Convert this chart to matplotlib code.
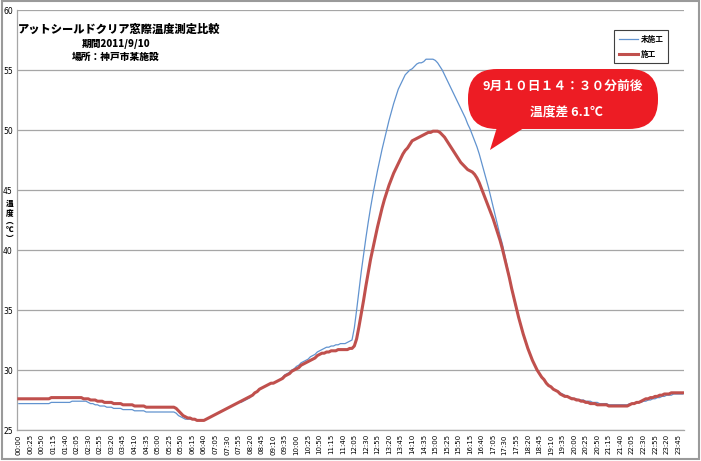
import matplotlib
matplotlib.use("Agg")
import matplotlib.pyplot as plt
from matplotlib.patches import FancyBboxPatch, Polygon, Rectangle

plt.rcParams['font.family'] = ['Noto Sans CJK JP', 'DejaVu Sans']

# 5分ごとの時刻 00:00 - 23:55
times = ["%02d:%02d" % (m // 60, m % 60) for m in range(0, 24 * 60, 5)]

# 未施工 (1時間ごと12点)
untreated = [
    27.2, 27.2, 27.2, 27.2, 27.2, 27.2, 27.2, 27.2, 27.2, 27.2, 27.2, 27.2,
    27.2, 27.2, 27.3, 27.3, 27.3, 27.3, 27.3, 27.3, 27.3, 27.3, 27.3, 27.4,
    27.4, 27.4, 27.4, 27.4, 27.4, 27.4, 27.3, 27.2, 27.2, 27.1, 27.1, 27.0,
    27.0, 27.0, 26.9, 26.9, 26.9, 26.8, 26.8, 26.8, 26.8, 26.7, 26.7, 26.7,
    26.7, 26.7, 26.6, 26.6, 26.6, 26.6, 26.6, 26.5, 26.5, 26.5, 26.5, 26.5,
    26.5, 26.5, 26.5, 26.5, 26.5, 26.5, 26.5, 26.5, 26.4, 26.2, 26.1, 26.0,
    25.9, 25.9, 25.9, 25.9, 25.9, 25.8, 25.8, 25.8, 25.8, 25.9, 26.0, 26.1,
    26.2, 26.3, 26.4, 26.5, 26.6, 26.7, 26.8, 26.9, 27.0, 27.1, 27.2, 27.3,
    27.3, 27.4, 27.5, 27.6, 27.7, 27.9, 28.1, 28.2, 28.4, 28.5, 28.6, 28.7,
    28.8, 28.9, 28.9, 29.0, 29.1, 29.2, 29.4, 29.6, 29.7, 29.8, 30.0, 30.1,
    30.3, 30.4, 30.6, 30.7, 30.8, 30.9, 31.1, 31.2, 31.3, 31.5, 31.6, 31.7,
    31.8, 31.9, 31.9, 32.0, 32.0, 32.1, 32.1, 32.2, 32.2, 32.2, 32.3, 32.4,
    32.5, 33.5, 35.0, 36.6, 38.2, 39.6, 41.0, 42.3, 43.5, 44.6, 45.6, 46.6,
    47.5, 48.4, 49.2, 50.0, 50.8, 51.5, 52.2, 52.8, 53.4, 53.8, 54.2, 54.6,
    54.8, 55.0, 55.1, 55.3, 55.5, 55.6, 55.6, 55.7, 55.9, 55.9, 55.9, 55.9,
    55.8, 55.6, 55.3, 55.0, 54.6, 54.2, 53.8, 53.4, 53.0, 52.6, 52.2, 51.8,
    51.4, 51.0, 50.5, 50.1, 49.6, 49.1, 48.6, 48.0, 47.3, 46.6, 45.9, 45.2,
    44.4, 43.6, 42.8, 42.0, 41.2, 40.5, 39.6, 38.7, 37.8, 36.8, 35.9, 35.1,
    34.4, 33.7, 33.0, 32.4, 31.8, 31.3, 30.8, 30.4, 30.0, 29.7, 29.4, 29.2,
    28.9, 28.7, 28.6, 28.4, 28.3, 28.2, 28.1, 28.0, 27.9, 27.8, 27.7, 27.7,
    27.6, 27.6, 27.5, 27.5, 27.5, 27.4, 27.4, 27.4, 27.3, 27.3, 27.3, 27.2,
    27.2, 27.2, 27.2, 27.1, 27.1, 27.1, 27.1, 27.1, 27.1, 27.1, 27.1, 27.1,
    27.2, 27.2, 27.2, 27.3, 27.3, 27.3, 27.4, 27.4, 27.5, 27.5, 27.6, 27.6,
    27.7, 27.7, 27.8, 27.8, 27.9, 27.9, 27.9, 28.0, 28.0, 28.0, 28.0, 28.0,
]

# 施工
treated = [
    27.6, 27.6, 27.6, 27.6, 27.6, 27.6, 27.6, 27.6, 27.6, 27.6, 27.6, 27.6,
    27.6, 27.6, 27.7, 27.7, 27.7, 27.7, 27.7, 27.7, 27.7, 27.7, 27.7, 27.7,
    27.7, 27.7, 27.7, 27.7, 27.6, 27.6, 27.6, 27.5, 27.5, 27.5, 27.4, 27.4,
    27.4, 27.3, 27.3, 27.3, 27.3, 27.2, 27.2, 27.2, 27.2, 27.1, 27.1, 27.1,
    27.1, 27.1, 27.0, 27.0, 27.0, 27.0, 27.0, 26.9, 26.9, 26.9, 26.9, 26.9,
    26.9, 26.9, 26.9, 26.9, 26.9, 26.9, 26.9, 26.9, 26.8, 26.6, 26.4, 26.2,
    26.1, 26.0, 26.0, 25.9, 25.9, 25.8, 25.8, 25.8, 25.8, 25.9, 26.0, 26.1,
    26.2, 26.3, 26.4, 26.5, 26.6, 26.7, 26.8, 26.9, 27.0, 27.1, 27.2, 27.3,
    27.4, 27.5, 27.6, 27.7, 27.8, 27.9, 28.1, 28.2, 28.4, 28.5, 28.6, 28.7,
    28.8, 28.9, 28.9, 29.0, 29.1, 29.2, 29.3, 29.5, 29.6, 29.7, 29.9, 30.0,
    30.1, 30.2, 30.4, 30.5, 30.6, 30.7, 30.8, 30.9, 31.0, 31.2, 31.3, 31.4,
    31.4, 31.5, 31.5, 31.6, 31.6, 31.6, 31.7, 31.7, 31.7, 31.7, 31.7, 31.8,
    31.8, 32.0, 32.6, 33.6, 34.7, 35.8, 37.0, 38.1, 39.2, 40.1, 41.0, 41.9,
    42.7, 43.5, 44.2, 44.8, 45.4, 45.9, 46.4, 46.8, 47.2, 47.6, 48.0, 48.3,
    48.5, 48.8, 49.1, 49.2, 49.3, 49.4, 49.5, 49.6, 49.7, 49.8, 49.8, 49.9,
    49.9, 49.9, 49.8, 49.6, 49.4, 49.1, 48.8, 48.5, 48.2, 47.9, 47.6, 47.3,
    47.1, 46.9, 46.7, 46.6, 46.5, 46.3, 46.0, 45.6, 45.1, 44.6, 44.1, 43.6,
    43.1, 42.6, 42.0, 41.4, 40.8, 40.1, 39.3, 38.5, 37.7, 36.8, 36.0, 35.2,
    34.4, 33.7, 33.0, 32.4, 31.8, 31.3, 30.8, 30.4, 30.0, 29.7, 29.4, 29.2,
    28.9, 28.7, 28.6, 28.4, 28.3, 28.2, 28.0, 27.9, 27.8, 27.8, 27.7, 27.6,
    27.6, 27.5, 27.5, 27.4, 27.4, 27.3, 27.3, 27.2, 27.2, 27.2, 27.1, 27.1,
    27.1, 27.1, 27.1, 27.0, 27.0, 27.0, 27.0, 27.0, 27.0, 27.0, 27.0, 27.0,
    27.1, 27.2, 27.2, 27.3, 27.3, 27.4, 27.5, 27.6, 27.6, 27.7, 27.7, 27.8,
    27.8, 27.9, 27.9, 28.0, 28.0, 28.0, 28.1, 28.1, 28.1, 28.1, 28.1, 28.1,
]

yticks = [25, 30, 35, 40, 45, 50, 55, 60]

W, H = 701, 461
fig = plt.figure(figsize=(W / 100, H / 100), dpi=100)
ax = fig.add_axes([17 / W, (H - 430) / H, (684 - 17) / W, 420 / H])

x = list(range(len(times)))
ax.plot(x, untreated, color='#6193cf', lw=0.9, label='未施工', zorder=3)
ax.plot(x, treated, color='#c0504d', lw=2.2, label='施工', zorder=4)

ax.set_xlim(-0.8, 287.5)
ax.set_ylim(25, 60)
ax.set_yticks(yticks)
ax.set_yticklabels([str(v) for v in yticks], fontsize=5.5, family='DejaVu Sans')
ax.set_xticks(x[::5])
ax.set_xticklabels(times[::5], rotation=90, fontsize=5, family='DejaVu Sans')
ax.tick_params(length=0, pad=3)
ax.grid(axis='y', color='#a6a6a6', lw=0.9)
ax.set_axisbelow(True)
for s in ['top', 'right']:
    ax.spines[s].set_visible(False)
for s in ['left', 'bottom']:
    ax.spines[s].set_color('#a6a6a6')
    ax.spines[s].set_linewidth(0.9)

leg = ax.legend(loc='upper left', bbox_to_anchor=(614 / W, 1 - 30 / H),
                bbox_transform=fig.transFigure, borderaxespad=0, fontsize=5.5,
                fancybox=False, edgecolor='#404040', framealpha=1,
                handlelength=2.6, handletextpad=0.3, labelspacing=0.8, borderpad=0.6)
for t in leg.get_texts():
    t.set_fontweight('bold')
leg.get_frame().set_linewidth(0.8)

# 上に重ねるピクセル座標の軸
ov = fig.add_axes([0, 0, 1, 1], zorder=10)
ov.set_xlim(0, W)
ov.set_ylim(H, 0)
ov.axis('off')
ov.patch.set_alpha(0)

ov.add_patch(Rectangle((1.5, 1.5), W - 4, H - 4, fill=False, ec='#9a9a9a', lw=1.5))

ov.text(18, 29, 'アットシールドクリア窓際温度測定比較', fontsize=8.1, fontweight='heavy',
        va='center', ha='left')
ov.text(116, 44, '期間2011/9/10', fontsize=7, fontweight='heavy', ha='center', va='center')
ov.text(116, 57, '場所：神戸市某施設', fontsize=7, fontweight='heavy', ha='center', va='center')

ov.text(10, 221, '温\n度\n︵\n℃\n︶', fontsize=5.5, fontweight='heavy', ha='center', va='center',
        linespacing=0.95)

red = '#ed1c24'
ov.add_patch(FancyBboxPatch((468, 69), 190, 60, boxstyle='round,pad=0,rounding_size=29',
                            fc=red, ec='none'))
ov.add_patch(Polygon([(498, 124), (530, 124), (490, 150)], closed=True, fc=red, ec='none'))
ov.text(563, 87, '9月１０日１４：３０分前後', fontsize=9.2, fontweight='bold', color='white',
        ha='center', va='center')
ov.text(566, 112, '温度差 6.1℃', fontsize=9.2, fontweight='bold', color='white',
        ha='center', va='center')

fig.savefig('out.png', dpi=100)
